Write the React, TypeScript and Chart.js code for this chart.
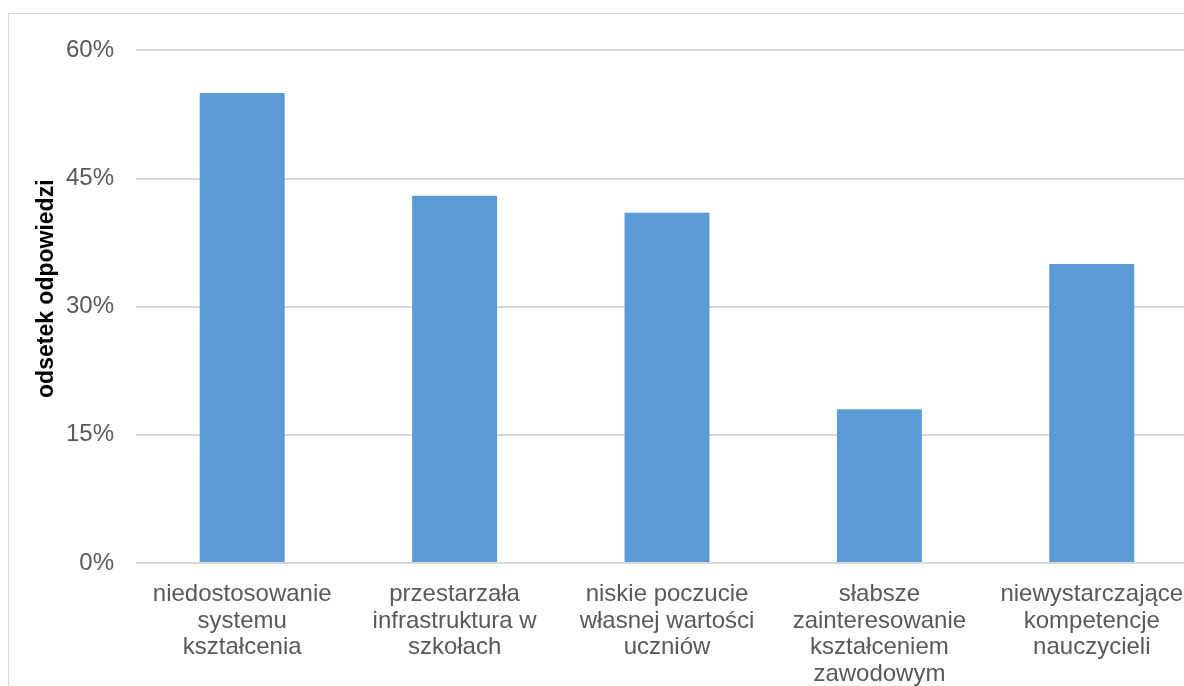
import React, { useEffect, useRef } from "react";
import { Chart, registerables } from "chart.js";

Chart.register(...registerables);

// Categories (each entry is split into the lines shown under the bar)
const categories: string[][] = [
  ["niedostosowanie", "systemu", "kształcenia"],
  ["przestarzała", "infrastruktura w", "szkołach"],
  ["niskie poczucie", "własnej wartości", "uczniów"],
  ["słabsze", "zainteresowanie", "kształceniem", "zawodowym"],
  ["niewystarczające", "kompetencje", "nauczycieli"],
];

// Share of answers, in percent
const shares: number[] = [55, 43, 41, 18, 35];

// Value axis ticks
const yTicks: number[] = [0, 15, 30, 45, 60];

const yAxisTitle = "odsetek odpowiedzi";

const FONT = "'Liberation Sans', Arial, sans-serif";

// Rotated value-axis title, centred slightly above the middle of the plot
const axisTitlePlugin = {
  id: "axisTitle",
  afterDraw(chart: any) {
    const { ctx, chartArea, scales } = chart;
    const yScale = scales.y;
    ctx.save();
    ctx.font = `bold 23px ${FONT}`;
    ctx.fillStyle = "#000000";
    ctx.textAlign = "center";
    ctx.textBaseline = "middle";
    ctx.translate(yScale.left + 38, (chartArea.top + chartArea.bottom) / 2 - 18);
    ctx.rotate(-Math.PI / 2);
    ctx.fillText(yAxisTitle, 0, 0);
    ctx.restore();
  },
};

export default function App() {
  const canvasRef = useRef<HTMLCanvasElement | null>(null);

  useEffect(() => {
    if (!canvasRef.current) return;
    const chart = new Chart(canvasRef.current, {
      type: "bar",
      data: {
        labels: categories,
        datasets: [
          {
            data: shares,
            backgroundColor: "#5b9bd5",
            borderWidth: 0,
            barPercentage: 0.4,
            categoryPercentage: 1,
          },
        ],
      },
      options: {
        animation: false,
        responsive: true,
        maintainAspectRatio: false,
        layout: { padding: { top: 36, left: 0, right: 0, bottom: 0 } },
        plugins: {
          legend: { display: false },
          tooltip: { enabled: false },
        },
        scales: {
          x: {
            grid: { display: false },
            border: { display: false },
            ticks: {
              color: "#595959",
              font: { family: FONT, size: 24, lineHeight: 1.11 },
              padding: 10,
              maxRotation: 0,
              autoSkip: false,
            },
            afterFit(scale: any) {
              scale.height = 140;
            },
          },
          y: {
            min: 0,
            max: 60,
            afterBuildTicks(scale: any) {
              scale.ticks = yTicks.map((v) => ({ value: v }));
            },
            grid: {
              color: "#d9d9d9",
              lineWidth: 2,
              drawTicks: false,
            },
            border: { display: false },
            ticks: {
              color: "#595959",
              font: { family: FONT, size: 24 },
              padding: 22,
              callback: (v: any) => `${v}%`,
            },
            afterFit(scale: any) {
              scale.width = 127;
            },
          },
        },
      },
      plugins: [axisTitlePlugin],
    });
    return () => chart.destroy();
  }, []);

  return (
    <div
      style={{
        position: "fixed",
        left: 0,
        top: 0,
        width: "100vw",
        height: "100vh",
        overflow: "hidden",
        background: "#ffffff",
      }}
    >
      <div
        style={{
          position: "absolute",
          left: 8,
          top: 13,
          width: 1191,
          height: 691,
          border: "1px solid #d9d9d9",
          boxSizing: "border-box",
        }}
      >
        <div style={{ position: "relative", width: 1189, height: 689 }}>
          <canvas ref={canvasRef} />
        </div>
      </div>
    </div>
  );
}
